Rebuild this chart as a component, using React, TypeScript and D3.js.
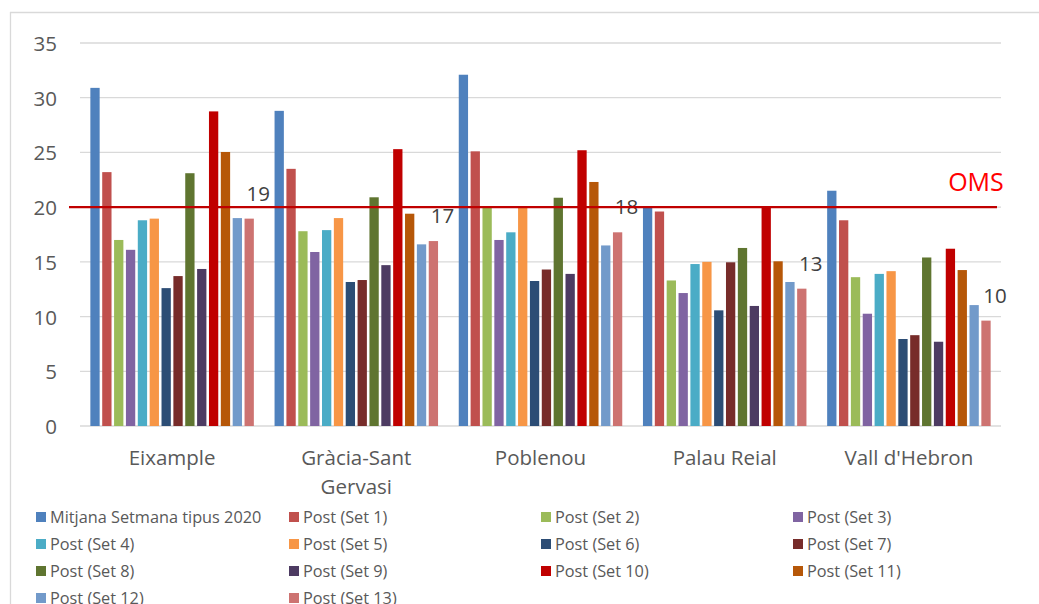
import React from "react";
import * as d3 from "d3";

const categories = ["Eixample", "Gràcia-Sant Gervasi", "Poblenou", "Palau Reial", "Vall d'Hebron"];
const seriesNames = [
  "Mitjana Setmana tipus 2020",
  "Post (Set 1)", "Post (Set 2)", "Post (Set 3)", "Post (Set 4)", "Post (Set 5)",
  "Post (Set 6)", "Post (Set 7)", "Post (Set 8)", "Post (Set 9)", "Post (Set 10)",
  "Post (Set 11)", "Post (Set 12)", "Post (Set 13)",
];
const colors = [
  "#4f81bd", "#c0504d", "#9bbb59", "#8064a2", "#4bacc6", "#f79646",
  "#2c4d75", "#772c2a", "#5f7530", "#4d3b62", "#c00000", "#b65708", "#729aca", "#cd7371",
];
// values per series, in category order
const mitjana = [30.9, 28.8, 32.1, 20.1, 21.5];
const set1 = [23.2, 23.5, 25.1, 19.6, 18.8];
const set2 = [17.0, 17.8, 20.0, 13.3, 13.6];
const set3 = [16.1, 15.9, 17.0, 12.15, 10.26];
const set4 = [18.8, 17.9, 17.7, 14.8, 13.9];
const set5 = [18.95, 19.0, 20.0, 15.0, 14.15];
const set6 = [12.6, 13.16, 13.25, 10.57, 7.95];
const set7 = [13.7, 13.34, 14.3, 14.96, 8.3];
const set8 = [23.1, 20.9, 20.86, 16.27, 15.4];
const set9 = [14.35, 14.7, 13.9, 10.97, 7.7];
const set10 = [28.75, 25.3, 25.2, 20.1, 16.2];
const set11 = [25.04, 19.4, 22.3, 15.05, 14.25];
const set12 = [19.0, 16.6, 16.5, 13.16, 11.05];
const set13 = [18.95, 16.9, 17.7, 12.55, 9.63];
const seriesValues = [mitjana, set1, set2, set3, set4, set5, set6, set7, set8, set9, set10, set11, set12, set13];
const yTicks = [0, 5, 10, 15, 20, 25, 30, 35];
const omsValue = 20;
const labelSeriesIndex = 13;

const W = 1039;
const H = 604;
const FONT = "'Open Sans', Lato, sans-serif";

export default function App() {
  const y = d3.scaleLinear().domain([0, 35]).range([426, 43]);
  const x0 = d3.scaleBand<string>().domain(categories).range([80, 1001]).paddingInner(0).paddingOuter(0);
  const x1 = d3
    .scaleBand<number>()
    .domain(d3.range(seriesNames.length))
    .range([0, x0.bandwidth()])
    .paddingInner(0.216)
    .paddingOuter(0.873);

  const legendCols = [36, 289, 541, 793];
  const legendRows = [517, 544, 571, 598];

  return (
    <div style={{ position: "absolute", left: 0, top: 0, width: W, height: H, background: "#fff" }}>
      <svg width={W} height={H} style={{ display: "block" }}>
        <rect x={0} y={0} width={W} height={H} fill="#fff" />
        {/* chart border */}
        <line x1={10} y1={12.5} x2={W} y2={12.5} stroke="#d9d9d9" strokeWidth={1.3} />
        <line x1={10.5} y1={12} x2={10.5} y2={H} stroke="#d9d9d9" strokeWidth={1.3} />
        {/* grid */}
        {yTicks.map((t) => (
          <g key={t}>
            <line x1={80} x2={1001} y1={y(t)} y2={y(t)} stroke="#d9d9d9" strokeWidth={1.3} />
            <text x={57} y={y(t)} textAnchor="end" dominantBaseline="central" fontFamily={FONT} fontSize={20.5} fill="#595959">
              {t}
            </text>
          </g>
        ))}
        {/* bars */}
        {categories.map((c, ci) => (
          <g key={c} transform={`translate(${x0(c)},0)`}>
            {seriesValues.map((vals, si) => (
              <rect
                key={si}
                x={x1(si)}
                y={y(vals[ci])}
                width={x1.bandwidth()}
                height={y(0) - y(vals[ci])}
                fill={colors[si]}
              />
            ))}
            <text
              x={(x1(labelSeriesIndex) as number) + x1.bandwidth() / 2 + 9}
              y={y(seriesValues[labelSeriesIndex][ci]) - 26}
              textAnchor="middle"
              dominantBaseline="central"
              fontFamily={FONT}
              fontSize={20.5}
              fill="#404040"
            >
              {Math.round(seriesValues[labelSeriesIndex][ci])}
            </text>
          </g>
        ))}
        {/* category labels */}
        {categories.map((c) => {
          const cx = (x0(c) as number) + x0.bandwidth() / 2;
          const lines = c === "Gràcia-Sant Gervasi" ? ["Gràcia-Sant", "Gervasi"] : [c];
          return (
            <text key={c} textAnchor="middle" fontFamily={FONT} fontSize={20.5} fill="#595959">
              {lines.map((l, i) => (
                <tspan key={i} x={cx} y={457 + i * 29} dominantBaseline="central">
                  {l}
                </tspan>
              ))}
            </text>
          );
        })}
        {/* OMS line */}
        <line x1={69} x2={997} y1={y(omsValue)} y2={y(omsValue)} stroke="#c00000" strokeWidth={2.2} />
        <text x={976} y={181} textAnchor="middle" dominantBaseline="central" fontFamily={FONT} fontSize={25} fill="#ff0000">
          OMS
        </text>
        {/* legend */}
        {seriesNames.map((n, i) => {
          const lx = legendCols[i % 4];
          const ly = legendRows[Math.floor(i / 4)];
          return (
            <g key={n}>
              <rect x={lx} y={ly - 5} width={10} height={10} fill={colors[i]} />
              <text x={lx + 14} y={ly} dominantBaseline="central" fontFamily={FONT} fontSize={16.3} fill="#595959">
                {n}
              </text>
            </g>
          );
        })}
      </svg>
    </div>
  );
}
